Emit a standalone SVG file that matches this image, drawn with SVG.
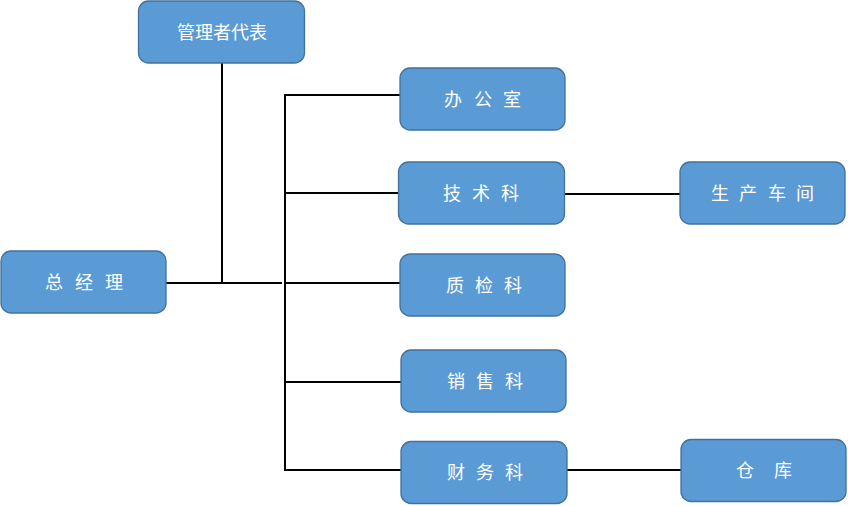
<svg xmlns="http://www.w3.org/2000/svg" width="848" height="506" viewBox="0 0 848 506">
<style>
.box{fill:#5B9BD5;stroke:#41719C;stroke-width:1.3}
.t{fill:#fff;font-family:"Noto Sans CJK SC","Liberation Sans",sans-serif;font-size:18px;text-anchor:middle}
.ln{stroke:#000;stroke-width:2;fill:none}
</style>
<rect width="848" height="506" fill="#fff"/>
<g id="connectors">
<path class="ln" d="M166 283H282"/>
<path class="ln" d="M222 63V282" stroke-width="1.6"/>
<path class="ln" d="M400 95H285V470H401"/>
<path class="ln" d="M285 193H398"/>
<path class="ln" d="M286 283H400"/>
<path class="ln" d="M285 382H401"/>
<path class="ln" d="M564 194H680"/>
<path class="ln" d="M567 470H681"/>
</g>
<g id="n-rep"><rect class="box" x="138.5" y="1" width="166" height="62" rx="10"/><text class="t" x="222" y="39" font-size="19">管理者代表</text></g>
<g id="n-gm"><rect class="box" x="1" y="251" width="165" height="62" rx="10"/><text class="t" x="54 84 114" y="289">总经理</text></g>
<g id="n-office"><rect class="box" x="400" y="68" width="165" height="62" rx="10"/><text class="t" x="453 483 512" y="106">办公室</text></g>
<g id="n-tech"><rect class="box" x="398.5" y="162" width="166" height="62" rx="10"/><text class="t" x="452 481 510" y="200">技术科</text></g>
<g id="n-prod"><rect class="box" x="680" y="162" width="165" height="62" rx="10"/><text class="t" x="720 748 777 805" y="200">生产车间</text></g>
<g id="n-qc"><rect class="box" x="400" y="254" width="165" height="62" rx="10"/><text class="t" x="455 484 513" y="292">质检科</text></g>
<g id="n-sales"><rect class="box" x="401" y="350" width="165" height="62" rx="10"/><text class="t" x="456 485 514" y="388">销售科</text></g>
<g id="n-fin"><rect class="box" x="401" y="441.5" width="166" height="62" rx="10"/><text class="t" x="456 485 514" y="479">财务科</text></g>
<g id="n-store"><rect class="box" x="681" y="439.5" width="165" height="62" rx="10"/><text class="t" x="745 783" y="477">仓库</text></g>
</svg>
